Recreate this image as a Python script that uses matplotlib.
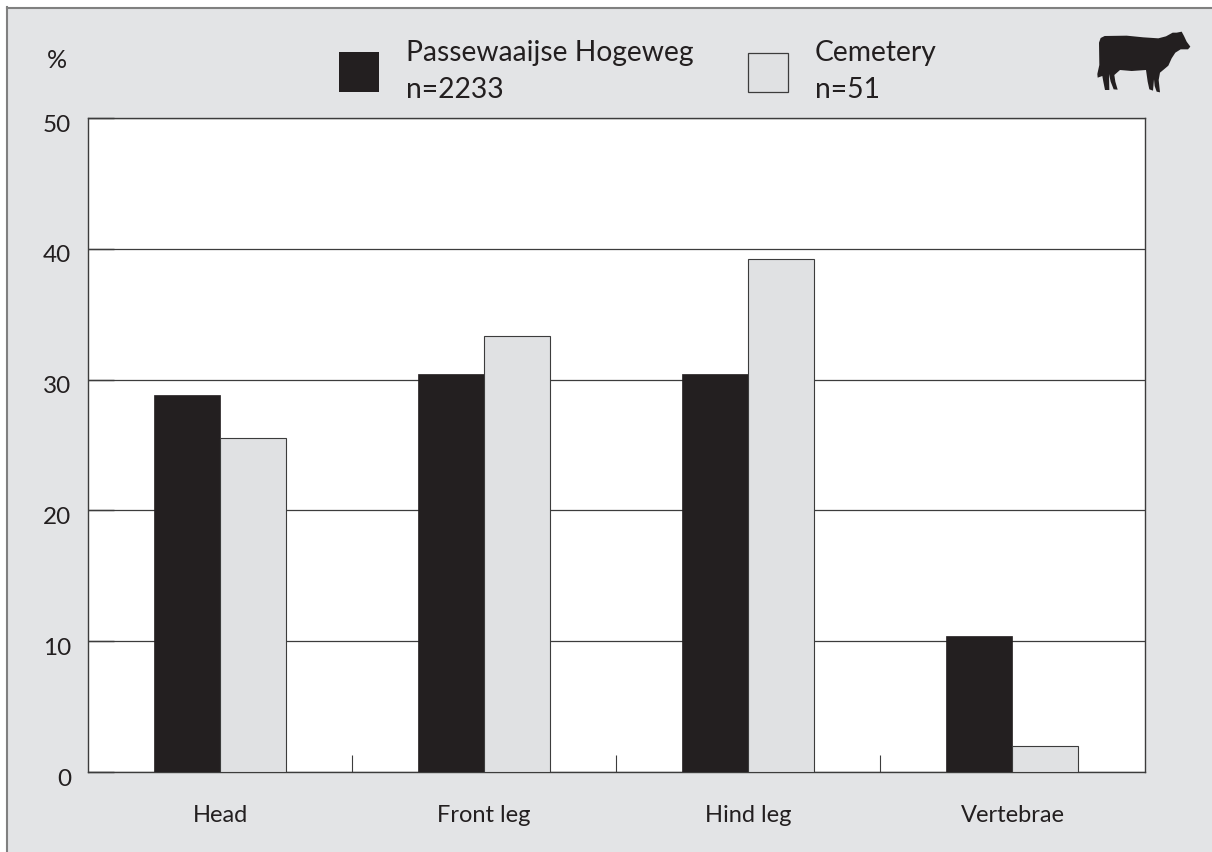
import matplotlib
matplotlib.use('Agg')
import matplotlib.pyplot as plt
import matplotlib.transforms as mtransforms
import numpy as np
from matplotlib.patches import Rectangle, Polygon
from matplotlib.lines import Line2D

plt.rcParams['font.family'] = ['Lato', 'DejaVu Sans']

categories = ['Head', 'Front leg', 'Hind leg', 'Vertebrae']
passewaaijse = [28.8, 30.4, 30.4, 10.4]
cemetery = [25.5, 33.3, 39.2, 2.0]
y_ticks = [0, 10, 20, 30, 40, 50]

BG = '#e3e4e6'
DARK = '#231f20'
LIGHT = '#e0e1e3'
EDGE = '#3c3c3c'
W, H = 1212, 852

fig = plt.figure(figsize=(W / 100, H / 100), dpi=100, facecolor='white')

# overlay in pixel coordinates for the frame, legend and icon
bg = fig.add_axes([0, 0, 1, 1])
bg.set_xlim(0, W)
bg.set_ylim(H, 0)
bg.axis('off')
bg.add_patch(Rectangle((7, 7), W - 7, H - 7, facecolor=BG, edgecolor='none'))
bg.add_line(Line2D([7, W], [7.5, 7.5], color='#808080', lw=1.5))
bg.add_line(Line2D([7, 7], [7, H], color='#808080', lw=1.5))

# legend
bg.add_patch(Rectangle((339, 52), 40, 40, facecolor=DARK, edgecolor='none'))
bg.add_patch(Rectangle((748, 52.5), 40, 39, facecolor=LIGHT, edgecolor=EDGE, lw=0.9))
legend_size = 20.3
bg.text(406, 53, 'Passewaaijse Hogeweg', fontsize=legend_size, color=DARK, va='center', ha='left')
bg.text(406, 90, 'n=2233', fontsize=legend_size, color=DARK, va='center', ha='left')
bg.text(815, 53, 'Cemetery', fontsize=legend_size, color=DARK, va='center', ha='left')
bg.text(815, 90, 'n=51', fontsize=legend_size, color=DARK, va='center', ha='left')
bg.text(57, 60, '%', fontsize=18, color=DARK, va='center', ha='center')

# cow outline, from the 3x crop of the corner
cow = np.array([(117, 128), (122, 114), (134, 108), (200, 107), (250, 112), (295, 115),
                (318, 109), (338, 98), (350, 98), (365, 95), (372, 108), (380, 125),
                (391, 140), (384, 148), (362, 148), (346, 158), (335, 175), (325, 197),
                (312, 208), (300, 218), (296, 240), (300, 277), (290, 275), (284, 258),
                (282, 238), (279, 272), (268, 268), (263, 245), (258, 210), (215, 213),
                (180, 210), (163, 225), (166, 245), (173, 269), (161, 268), (152, 245),
                (147, 222), (148, 270), (135, 270), (130, 245), (127, 228), (113, 233),
                (112, 222), (118, 195)], dtype=float)
cow = cow / 3 + [1060, 0]
bg.add_patch(Polygon(cow, closed=True, facecolor=DARK, edgecolor='none'))

# main plot: x 88-1144.5, y 118-772 in pixels
ax = fig.add_axes([88 / W, 1 - 772 / H, (1144.5 - 88) / W, (772 - 118) / H], facecolor='white')
x = np.arange(len(categories))
width = 0.25
ax.bar(x - width / 2, passewaaijse, width, color=DARK, edgecolor=DARK, linewidth=0.5, zorder=3)
ax.bar(x + width / 2, cemetery, width, color=LIGHT, edgecolor=EDGE, linewidth=0.8, zorder=3)

ax.set_xlim(-0.5, len(categories) - 0.5)
ax.set_ylim(0, 50)
ax.set_yticks(y_ticks)
ax.yaxis.grid(True, color=EDGE, lw=0.9, zorder=1)
ax.set_axisbelow(True)

# group separators point inward from the baseline
ax.set_xticks(x[:-1] + 0.5, minor=True)
ax.tick_params(axis='x', which='minor', direction='in', length=12, width=0.8, color=EDGE)
ax.set_xticks(x)
ax.set_xticklabels(categories)
ax.tick_params(axis='x', which='major', length=0, pad=24, labelsize=17, labelcolor=DARK)
ax.tick_params(axis='y', direction='in', length=19, width=1.0, color=EDGE, pad=12, labelsize=17.5, labelcolor=DARK)

# tick numbers sit a little below their gridlines
shift = mtransforms.ScaledTranslation(0, -5 / 100, fig.dpi_scale_trans)
for lab in ax.get_yticklabels():
    lab.set_transform(lab.get_transform() + shift)

for s in ax.spines.values():
    s.set_color(EDGE)
    s.set_linewidth(1.0)

fig.savefig('out.png', dpi=100, facecolor='white')
